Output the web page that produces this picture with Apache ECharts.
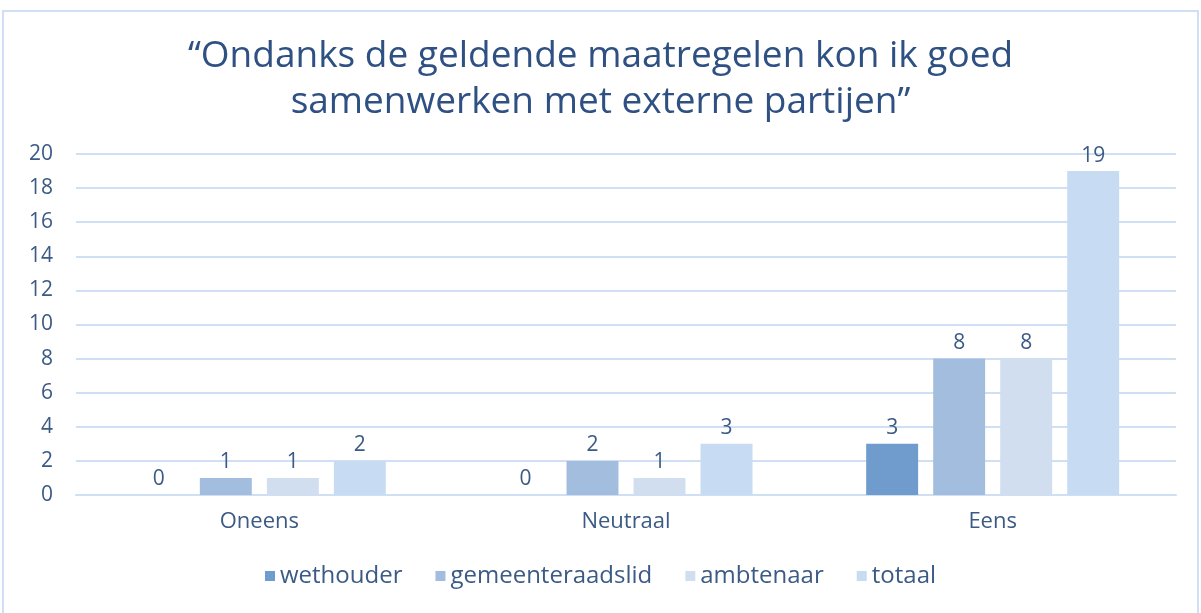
<!DOCTYPE html>
<html><head><meta charset="utf-8">
<script src="https://cdn.jsdelivr.net/npm/echarts@6/dist/echarts.min.js"></script>
<style>html,body{margin:0;padding:0;background:#fff}#c{width:1201px;height:613px}</style>
</head><body><div id="c"></div>
<script>
const categories = ['Oneens', 'Neutraal', 'Eens'];
const wethouder = [0, 0, 3];
const gemeenteraadslid = [1, 2, 8];
const ambtenaar = [1, 1, 8];
const totaal = [2, 3, 19];
const seriesNames = ['wethouder', 'gemeenteraadslid', 'ambtenaar', 'totaal'];
const yTicks = [0, 2, 4, 6, 8, 10, 12, 14, 16, 18, 20];

const colors = ['#709CCD', '#A3BDDE', '#D1DEEF', '#C7DCF3'];
const textColor = '#3B5A85';
const font = 'Open Sans';
const dataSets = [wethouder, gemeenteraadslid, ambtenaar, totaal];

const chart = echarts.init(document.getElementById('c'));
chart.setOption({
  animation: false,
  color: colors,
  title: {
    text: '\u201cOndanks de geldende maatregelen kon ik goed\nsamenwerken met externe partijen\u201d',
    left: 'center', top: 28,
    textStyle: { color: '#2F5082', fontFamily: font, fontWeight: 'normal', fontSize: 37, lineHeight: 46 }
  },
  graphic: [{
    type: 'rect', shape: { x: 3, y: 11, width: 1195, height: 610 },
    style: { fill: 'none', stroke: '#D0E0F4', lineWidth: 2 }, silent: true
  }],
  legend: {
    data: seriesNames, bottom: 20, left: 'center', itemWidth: 10, itemHeight: 10, itemGap: 33,
    icon: 'rect',
    textStyle: { color: textColor, fontFamily: font, fontSize: 24 }
  },
  grid: { left: 76, right: 25, top: 154, bottom: 118, containLabel: false },
  xAxis: {
    type: 'category', data: categories,
    axisLine: { lineStyle: { color: '#D0E0F4', width: 2 } },
    axisTick: { show: false },
    axisLabel: { color: textColor, fontFamily: font, fontSize: 22, margin: 16 }
  },
  yAxis: {
    type: 'value', min: 0, max: 20, interval: 2,
    axisLine: { show: false }, axisTick: { show: false },
    splitLine: { lineStyle: { color: '#D0E0F4', width: 2 } },
    axisLabel: { color: textColor, fontFamily: font, fontSize: 21, margin: 23,
      formatter: v => yTicks.includes(v) ? String(v) : '' }
  },
  series: seriesNames.map((n, i) => ({
    name: n, type: 'bar', data: dataSets[i],
    barGap: '29%', barCategoryGap: '31%',
    itemStyle: { color: colors[i] },
    label: { show: true, position: 'top', distance: 5, color: textColor, fontFamily: font, fontSize: 21 }
  }))
});
</script></body></html>
